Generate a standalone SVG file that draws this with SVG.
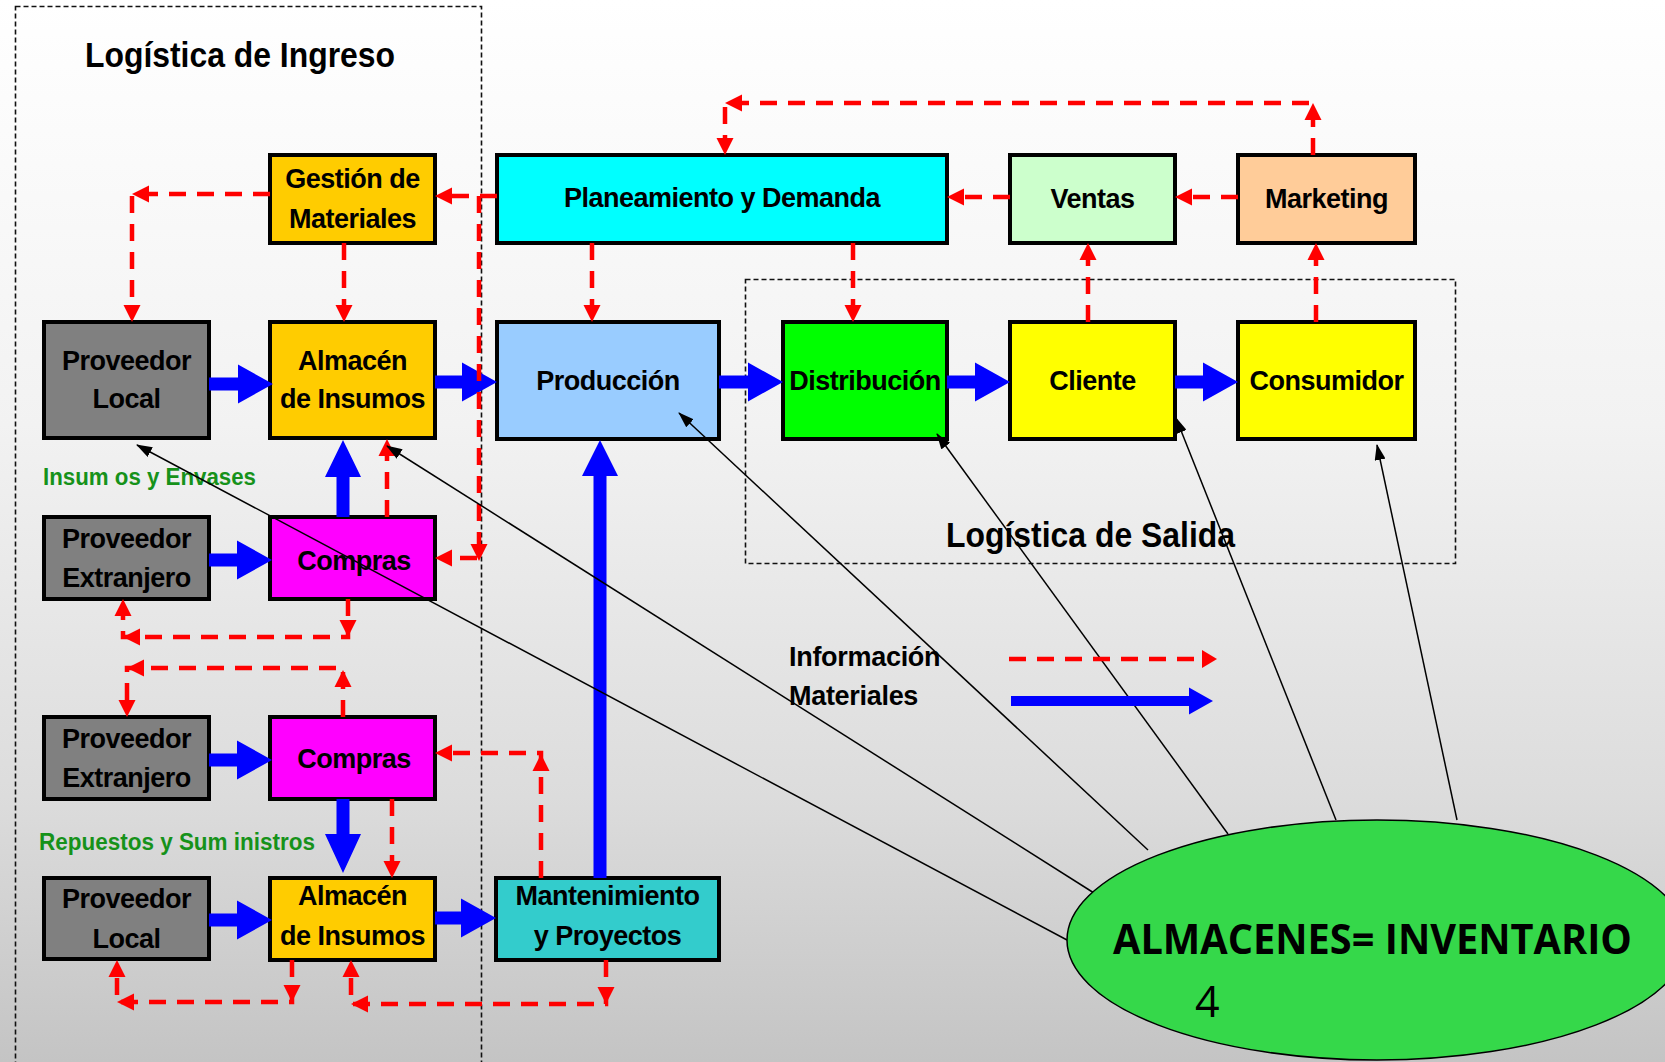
<svg xmlns="http://www.w3.org/2000/svg" xmlns:xlink="http://www.w3.org/1999/xlink" width="1665" height="1062" viewBox="0 0 1665 1062">
<style>
.box{stroke:#000;stroke-width:4}
.t{font-family:"Liberation Sans",Arial,sans-serif;font-weight:bold;font-size:27px;text-anchor:middle;letter-spacing:-0.5px;fill:#000}
.lbl{font-family:"Liberation Sans",Arial,sans-serif;font-weight:bold;fill:#000}
.grn{font-family:"Liberation Sans",Arial,sans-serif;font-weight:bold;font-size:23px;fill:#16921a}
.frame{fill:none;stroke:#111;stroke-width:1.6;stroke-dasharray:5 3}
.red{fill:none;stroke:#ff0000;stroke-width:4.5;stroke-dasharray:17 11}
.blue{fill:#0000ff}
.blk{fill:none;stroke:#000;stroke-width:1.5;marker-end:url(#ba)}
</style>
<defs>
<linearGradient id="bg" x1="0" y1="0" x2="0" y2="1">
<stop offset="0" stop-color="#ffffff"/>
<stop offset="0.4" stop-color="#f2f2f2"/>
<stop offset="0.75" stop-color="#dcdcdc"/>
<stop offset="1" stop-color="#c4c4c4"/>
</linearGradient>
<polygon id="rh" points="0,0 -17,-8.5 -17,8.5" fill="#ff0000"/>
<marker id="ba" markerWidth="16" markerHeight="11" refX="15" refY="5.5" orient="auto" markerUnits="userSpaceOnUse"><path d="M0,0 L16,5.5 L0,11 Z" fill="#000"/></marker>
</defs>
<rect x="0" y="0" width="1665" height="1062" fill="url(#bg)"/>

<rect class="frame" x="15.5" y="6.5" width="466" height="1100"/>
<rect class="frame" x="745.5" y="279.5" width="710" height="284"/>
<text class="lbl" x="85" y="67" font-size="35" textLength="310" lengthAdjust="spacingAndGlyphs">Logística de Ingreso</text>
<text class="lbl" x="946" y="547" font-size="35" textLength="289" lengthAdjust="spacingAndGlyphs">Logística de Salida</text>
<text class="grn" x="43" y="485" textLength="213" lengthAdjust="spacingAndGlyphs">Insum os y Envases</text>
<text class="grn" x="39" y="850" textLength="276" lengthAdjust="spacingAndGlyphs">Repuestos y Sum inistros</text>

<g id="gestion"><rect class="box" x="270" y="155" width="165" height="88" fill="#ffcc00"/><text class="t" x="352.5" y="188">Gestión de</text><text class="t" x="352.5" y="228">Materiales</text></g>
<g id="proveedor-local-1"><rect class="box" x="44" y="322" width="165" height="116" fill="#808080"/><text class="t" x="126.5" y="370">Proveedor</text><text class="t" x="126.5" y="408">Local</text></g>
<g id="almacen-1"><rect class="box" x="270" y="322" width="165" height="116" fill="#ffcc00"/><text class="t" x="352.5" y="370">Almacén</text><text class="t" x="352.5" y="408">de Insumos</text></g>
<g id="proveedor-extranjero-1"><rect class="box" x="44" y="517" width="165" height="82" fill="#808080"/><text class="t" x="126.5" y="548">Proveedor</text><text class="t" x="126.5" y="587">Extranjero</text></g>
<g id="compras-1"><rect class="box" x="270" y="517" width="165" height="82" fill="#ff00ff"/><text class="t" x="354" y="570">Compras</text></g>
<g id="proveedor-extranjero-2"><rect class="box" x="44" y="717" width="165" height="82" fill="#808080"/><text class="t" x="126.5" y="748">Proveedor</text><text class="t" x="126.5" y="787">Extranjero</text></g>
<g id="compras-2"><rect class="box" x="270" y="717" width="165" height="82" fill="#ff00ff"/><text class="t" x="354" y="768">Compras</text></g>
<g id="proveedor-local-2"><rect class="box" x="44" y="878" width="165" height="81" fill="#808080"/><text class="t" x="126.5" y="908">Proveedor</text><text class="t" x="126.5" y="948">Local</text></g>
<g id="almacen-2"><rect class="box" x="270" y="878" width="165" height="82" fill="#ffcc00"/><text class="t" x="352.5" y="905">Almacén</text><text class="t" x="352.5" y="945">de Insumos</text></g>
<g id="mantenimiento"><rect class="box" x="496" y="878" width="223" height="82" fill="#33cccc"/><text class="t" x="607.5" y="905">Mantenimiento</text><text class="t" x="607.5" y="945">y Proyectos</text></g>
<g id="planeamiento"><rect class="box" x="497" y="155" width="450" height="88" fill="#00ffff"/><text class="t" x="722" y="207">Planeamiento y Demanda</text></g>
<g id="ventas"><rect class="box" x="1010" y="155" width="165" height="88" fill="#ccffcc"/><text class="t" x="1092.5" y="208">Ventas</text></g>
<g id="marketing"><rect class="box" x="1238" y="155" width="177" height="88" fill="#ffcc99"/><text class="t" x="1326.5" y="208">Marketing</text></g>
<g id="produccion"><rect class="box" x="497" y="322" width="222" height="117" fill="#99ccff"/><text class="t" x="608" y="390">Producción</text></g>
<g id="distribucion"><rect class="box" x="783" y="322" width="164" height="117" fill="#00ff00"/><text class="t" x="865" y="390">Distribución</text></g>
<g id="cliente"><rect class="box" x="1010" y="322" width="165" height="117" fill="#ffff00"/><text class="t" x="1092.5" y="390">Cliente</text></g>
<g id="consumidor"><rect class="box" x="1238" y="322" width="177" height="117" fill="#ffff00"/><text class="t" x="1326.5" y="390">Consumidor</text></g>

<g id="connectors">
<g id="materiales-flow">
<path class="blue" d="M209,377.5 H238 V364.5 L273,384 L238,403.5 V390.5 H209 Z"/>
<path class="blue" d="M435,375.5 H462 V362.5 L497,382 L462,401.5 V388.5 H435 Z"/>
<path class="blue" d="M719,375.5 H748 V362.5 L783,382 L748,401.5 V388.5 H719 Z"/>
<path class="blue" d="M947,375.5 H975 V362.5 L1010,382 L975,401.5 V388.5 H947 Z"/>
<path class="blue" d="M1175,375.5 H1203 V362.5 L1238,382 L1203,401.5 V388.5 H1175 Z"/>
<path class="blue" d="M209,553.5 H237 V540.5 L272,560 L237,579.5 V566.5 H209 Z"/>
<path class="blue" d="M209,753.5 H237 V740.5 L272,760 L237,779.5 V766.5 H209 Z"/>
<path class="blue" d="M209,913.5 H237 V900.5 L272,920 L237,939.5 V926.5 H209 Z"/>
<path class="blue" d="M435,911.5 H461 V898.5 L496,918 L461,937.5 V924.5 H435 Z"/>
<path class="blue" d="M336.5,517 V477 H325 L343,440 L361,477 H349.5 V517 Z"/>
<path class="blue" d="M336.5,799 V834 H325 L343,873 L361,834 H349.5 V799 Z"/>
<path class="blue" d="M593.5,878 V476 H582 L600,440 L618,476 H606.5 V878 Z"/>
</g>
<g id="informacion-flow">
<path class="red" d="M270,194 H132 V316"/>
<use href="#rh" transform="translate(132,194) rotate(180)"/>
<use href="#rh" transform="translate(132,322) rotate(90)"/>
<path class="red" d="M344,243 V316"/>
<use href="#rh" transform="translate(344,322) rotate(90)"/>
<path class="red" d="M497,196 H441"/>
<use href="#rh" transform="translate(435,196) rotate(180)"/>
<path class="red" d="M479,196 V558 H441"/>
<use href="#rh" transform="translate(479,561) rotate(90)"/>
<use href="#rh" transform="translate(435,558) rotate(180)"/>
<path class="red" d="M348,599 V637 H123 V605"/>
<use href="#rh" transform="translate(348,637) rotate(90)"/>
<use href="#rh" transform="translate(123,637) rotate(180)"/>
<use href="#rh" transform="translate(123,599) rotate(270)"/>
<path class="red" d="M387,517 V445"/>
<use href="#rh" transform="translate(387,439) rotate(270)"/>
<path class="red" d="M343,717 V668 H127 V711"/>
<use href="#rh" transform="translate(343,670) rotate(270)"/>
<use href="#rh" transform="translate(127,668) rotate(180)"/>
<use href="#rh" transform="translate(127,717) rotate(90)"/>
<path class="red" d="M541,878 V753 H441"/>
<use href="#rh" transform="translate(541,754) rotate(270)"/>
<use href="#rh" transform="translate(435,753) rotate(180)"/>
<path class="red" d="M392,799 V872"/>
<use href="#rh" transform="translate(392,878) rotate(90)"/>
<path class="red" d="M292,960 V1002 H117 V966"/>
<use href="#rh" transform="translate(292,1002) rotate(90)"/>
<use href="#rh" transform="translate(117,1002) rotate(180)"/>
<use href="#rh" transform="translate(117,960) rotate(270)"/>
<path class="red" d="M606,960 V1004 H351 V966"/>
<use href="#rh" transform="translate(606,1004) rotate(90)"/>
<use href="#rh" transform="translate(351,1004) rotate(180)"/>
<use href="#rh" transform="translate(351,960) rotate(270)"/>
<path class="red" d="M1313,155 V103 H725 V149"/>
<use href="#rh" transform="translate(1313,103) rotate(270)"/>
<use href="#rh" transform="translate(725,103) rotate(180)"/>
<use href="#rh" transform="translate(725,155) rotate(90)"/>
<path class="red" d="M592,243 V316"/>
<use href="#rh" transform="translate(592,322) rotate(90)"/>
<path class="red" d="M853,243 V316"/>
<use href="#rh" transform="translate(853,322) rotate(90)"/>
<path class="red" d="M1010,197 H953"/>
<use href="#rh" transform="translate(947,197) rotate(180)"/>
<path class="red" d="M1238,197 H1181"/>
<use href="#rh" transform="translate(1175,197) rotate(180)"/>
<path class="red" d="M1088,322 V249"/>
<use href="#rh" transform="translate(1088,243) rotate(270)"/>
<path class="red" d="M1316,322 V249"/>
<use href="#rh" transform="translate(1316,243) rotate(270)"/>
</g>
<g id="inventario-links">
<path class="blk" d="M1067,940 L137,445"/>
<path class="blk" d="M1094,893 L387,446"/>
<path class="blk" d="M1148,850 L679,413"/>
<path class="blk" d="M1228,834 L937,434"/>
<path class="blk" d="M1336,820 L1176,418"/>
<path class="blk" d="M1457,820 L1377,445"/>
</g>
</g>

<g id="legend">
<text class="lbl" x="789" y="666" font-size="27" letter-spacing="-0.3">Información</text>
<text class="lbl" x="789" y="705" font-size="27" letter-spacing="-0.3">Materiales</text>
<path class="red" d="M1009,659 H1202"/>
<polygon points="1217,659 1202,650 1202,668" fill="#ff0000"/>
<path class="blue" d="M1011,696 H1189 V687.5 L1213,701 L1189,714.5 V706 H1011 Z"/>
</g>

<g id="almacenes">
<ellipse cx="1377" cy="940" rx="310" ry="120" fill="#35d84a" stroke="#000" stroke-width="1.5"/>
<text x="1113" y="954" font-family="'Open Sans','Liberation Sans',sans-serif" font-weight="bold" font-size="41" textLength="519" lengthAdjust="spacingAndGlyphs" fill="#000">ALMACENES= INVENTARIO</text>
<text x="1195" y="1017" font-family="'Open Sans','Liberation Sans',sans-serif" font-size="43" fill="#000">4</text>
</g>
</svg>
